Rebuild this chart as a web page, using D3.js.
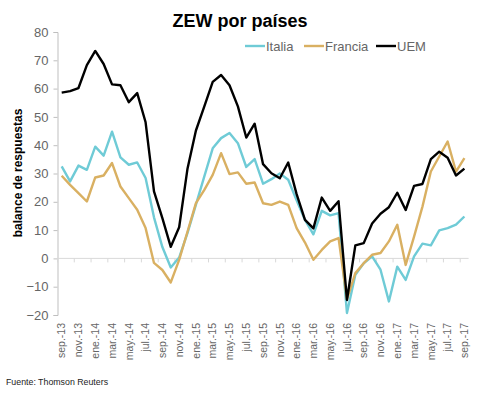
<!DOCTYPE html>
<html><head><meta charset="utf-8">
<script src="https://cdn.jsdelivr.net/npm/d3@7"></script>
<style>body{margin:0;background:#fff}svg{display:block;font-family:"Liberation Sans",Arial,sans-serif}</style>
</head><body>
<svg id="c" width="477" height="396"></svg>
<script>
const months = ["sep.-13","oct.-13","nov.-13","dic.-13","ene.-14","feb.-14","mar.-14","abr.-14","may.-14","jun.-14","jul.-14","ago.-14","sep.-14","oct.-14","nov.-14","dic.-14","ene.-15","feb.-15","mar.-15","abr.-15","may.-15","jun.-15","jul.-15","ago.-15","sep.-15","oct.-15","nov.-15","dic.-15","ene.-16","feb.-16","mar.-16","abr.-16","may.-16","jun.-16","jul.-16","ago.-16","sep.-16","oct.-16","nov.-16","dic.-16","ene.-17","feb.-17","mar.-17","abr.-17","may.-17","jun.-17","jul.-17","ago.-17","sep.-17"];
const italia = [32.5,27.2,32.8,31.3,39.5,36.3,44.8,35.7,33.1,33.9,28.4,14.5,4.0,-3.2,0.3,9.0,19.0,29.0,38.9,42.5,44.3,40.7,32.3,35.1,26.4,28.0,30.0,27.8,20.5,13.6,8.5,16.8,15.2,16.0,-19.3,-5.8,-1.7,0.7,-4.0,-15.2,-2.9,-7.6,0.7,5.2,4.6,9.9,10.7,11.9,14.8];
const francia = [29.2,26.0,23.1,20.1,28.6,29.3,33.7,25.4,21.3,17.2,10.7,-1.6,-4.1,-8.5,-0.5,9.5,19.5,24.2,29.5,37.2,29.8,30.4,26.4,26.8,19.5,18.9,20.1,18.9,10.7,5.6,-0.5,3.0,6.0,7.2,-14.5,-5.2,-1.7,1.3,1.9,6.0,11.9,-2.3,7.7,18.3,30.7,36.0,41.3,30.7,35.4];
const uem = [58.6,59.1,60.2,68.3,73.3,68.7,61.5,61.2,55.2,58.4,48.1,23.7,14.2,4.1,11.0,31.8,45.2,53.7,62.4,64.8,61.2,53.7,42.7,47.6,33.3,30.1,28.3,33.9,22.7,13.6,10.6,21.5,16.8,20.2,-14.7,4.6,5.4,12.3,15.8,18.1,23.2,17.1,25.6,26.3,35.1,37.7,35.6,29.3,31.7];
const yTicks = [-20,-10,0,10,20,30,40,50,60,70,80];
const seriesNames = ["Italia","Francia","UEM"];
const seriesColors = ["#6fcbd6","#d9b062","#000000"];

const svg = d3.select("#c");
const x = d3.scaleBand().domain(d3.range(months.length)).range([57.5, 468.6]).paddingInner(0).paddingOuter(0);
const y = d3.scaleLinear().domain([-20, 80]).range([315, 32]);
const xc = i => x(i) + x.bandwidth()/2;
const grey = "#666666";

// title
svg.append("text").attr("x", 240).attr("y", 27).attr("text-anchor","middle")
  .attr("font-size", 18).attr("font-weight","bold").attr("fill","#000").text("ZEW por países");

// y axis
const yAxis = svg.append("g").attr("transform","translate(57.5,0)")
  .call(d3.axisLeft(y).tickValues(yTicks).tickSize(4).tickPadding(5));
yAxis.select(".domain").attr("stroke","#bfbfbf");
yAxis.selectAll(".tick line").attr("stroke","#bfbfbf");
yAxis.selectAll(".tick text").attr("font-size",13).attr("fill",grey).attr("font-family","Liberation Sans, Arial, sans-serif");

// x axis line at zero
const tickIdx = d3.range(0, months.length + 1, 2);
svg.append("line").attr("x1", x.range()[0]).attr("x2", x.range()[1])
  .attr("y1", y(0)).attr("y2", y(0)).attr("stroke","#d9d9d9").attr("stroke-width",1);
svg.append("g").selectAll("line").data(tickIdx).join("line")
  .attr("x1", i => x.range()[0] + i*x.bandwidth()).attr("x2", i => x.range()[0] + i*x.bandwidth())
  .attr("y1", y(0)).attr("y2", y(0)+4).attr("stroke","#d9d9d9");

// x labels
svg.append("g").selectAll("text").data(d3.range(0, months.length, 2)).join("text")
  .attr("transform", i => `translate(${xc(i)},323) rotate(-90)`)
  .attr("text-anchor","end").attr("dy","0.35em")
  .attr("font-size",10.5).attr("fill",grey).text(i => months[i]);

// y axis title
svg.append("text").attr("transform","translate(22,173) rotate(-90)")
  .attr("text-anchor","middle").attr("font-size",12).attr("font-weight","bold").attr("fill","#000")
  .text("balance de respuestas");

// lines
const line = d3.line().x((d,i) => xc(i)).y(d => y(d));
const data = [italia, francia, uem];
data.forEach((s, k) => {
  svg.append("path").datum(s).attr("d", line).attr("fill","none")
    .attr("stroke", seriesColors[k]).attr("stroke-width", 2.4).attr("stroke-linejoin","round");
});

// legend
const legX = [245, 304, 376];
seriesNames.forEach((n, k) => {
  svg.append("line").attr("x1", legX[k]).attr("x2", legX[k]+20).attr("y1",46).attr("y2",46)
    .attr("stroke", seriesColors[k]).attr("stroke-width",2.4);
  svg.append("text").attr("x", legX[k]+21).attr("y",46).attr("dy","0.35em")
    .attr("font-size",13).attr("fill",grey).text(n);
});

// source
svg.append("text").attr("x",6).attr("y",385).attr("font-size",8.8).attr("fill","#222")
  .text("Fuente: Thomson Reuters");
</script>
</body></html>
